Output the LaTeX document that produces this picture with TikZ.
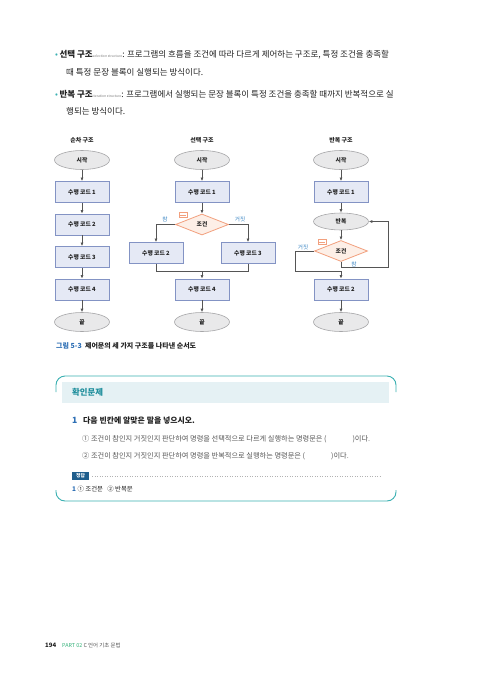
\documentclass[tikz,border=0pt]{standalone}
\usepackage{fontspec}
\setmainfont{Noto Sans CJK KR}
\usetikzlibrary{shapes.geometric,arrows.meta}
\definecolor{boxfill}{HTML}{E5E9F5}
\definecolor{boxdraw}{HTML}{8393C4}
\definecolor{ellfill}{HTML}{E9E9EA}
\definecolor{elldraw}{HTML}{A6A6A8}
\definecolor{decfill}{HTML}{FDEFE7}
\definecolor{decdraw}{HTML}{F2A07E}
\definecolor{linegray}{HTML}{555555}
\definecolor{lblblue}{HTML}{3B86C4}
\definecolor{teal1}{HTML}{3AB0B2}
\definecolor{headfill}{HTML}{E5F1F4}
\definecolor{headtxt}{HTML}{1E8E9C}
\definecolor{capblue}{HTML}{2D6FB5}
\definecolor{badge}{HTML}{1F5E8C}
\definecolor{partgreen}{HTML}{35B27A}
\definecolor{txtdark}{HTML}{222222}
\definecolor{txtgray}{HTML}{555555}
\begin{document}
\begin{tikzpicture}[x=1pt,y=-1pt,
  every node/.style={inner sep=0pt, text=txtdark},
  dfont/.style={font=\fontsize{5.8}{7}\selectfont\bfseries},
  term/.style={ellipse, draw=elldraw, fill=ellfill, line width=0.6pt, minimum width=55pt, minimum height=19pt, dfont},
  proc/.style={rectangle, draw=boxdraw, fill=boxfill, line width=0.8pt, minimum width=54pt, minimum height=21pt, dfont},
  dec/.style={diamond, aspect=2.5, draw=decdraw, fill=decfill, line width=0.8pt, minimum width=53pt, minimum height=21pt, dfont},
  ttl/.style={font=\fontsize{6}{7}\selectfont\bfseries},
  lbl/.style={font=\fontsize{5.6}{6}\selectfont, text=lblblue},
  conn/.style={draw=linegray, line width=0.8pt},
  arr/.style={conn, -{Latex[length=3.5pt,width=3pt]}},
  icon/.style={rectangle, draw=decdraw, line width=0.6pt, minimum width=8pt, minimum height=5pt},
  body/.style={anchor=west, font=\fontsize{8.5}{10}\selectfont},
  item/.style={anchor=west, font=\fontsize{7.2}{8}\selectfont, text=txtgray}
]
\useasboundingbox (0,0) rectangle (500,683);
\fill[white] (0,0) rectangle (500,683);

% ---- bullets
\node[body] (b1) at (55,55) {{\color{teal1}•}\,\textbf{선택 구조}{\fontsize{3.4}{4}\selectfont\color{gray}selection structure}: 프로그램의 흐름을 조건에 따라 다르게 제어하는 구조로, 특정 조건을 충족할};
\node[body] (b1b) at (66,72) {때 특정 문장 블록이 실행되는 방식이다.};
\node[body] (b2) at (55,94) {{\color{teal1}•}\,\textbf{반복 구조}{\fontsize{3.4}{4}\selectfont\color{gray}iteration structure}: 프로그램에서 실행되는 문장 블록이 특정 조건을 충족할 때까지 반복적으로 실};
\node[body] (b2b) at (66,111) {행되는 방식이다.};

% ---- column 1
\node[ttl] (t1) at (82,140) {순차 구조};
\node[term] (s1) at (82,160) {시작};
\node[proc] (a1) at (82,192) {수행 코드 1};
\node[proc] (a2) at (82,224.5) {수행 코드 2};
\node[proc] (a3) at (82,257) {수행 코드 3};
\node[proc] (a4) at (82,289.5) {수행 코드 4};
\node[term] (e1) at (82,322) {끝};
\draw[arr] (s1) -- (a1);
\draw[arr] (a1) -- (a2);
\draw[arr] (a2) -- (a3);
\draw[arr] (a3) -- (a4);
\draw[arr] (a4) -- (e1);

% ---- column 2
\node[ttl] (t2) at (202,140) {선택 구조};
\node[term] (s2) at (202,160) {시작};
\node[proc] (c1) at (202,192) {수행 코드 1};
\node[dec] (d2) at (202,224.5) {조건};
\node[proc] (c2) at (156,253) {수행 코드 2};
\node[proc] (c3) at (248,253) {수행 코드 3};
\node[proc] (c4) at (202,289.5) {수행 코드 4};
\node[term] (e2) at (202,322) {끝};
\node[icon] (i2) at (183,215) {};
\draw[decdraw, line width=0.5pt] ([xshift=1pt]i2.west) -- ([xshift=-1pt]i2.east);
\node[lbl] (l2t) at (165,219) {참};
\node[lbl] (l2f) at (240,219) {거짓};
\coordinate (j2) at (202,271);
\draw[arr] (s2) -- (c1);
\draw[arr] (c1) -- (d2);
\draw[arr] (d2.west) -| (c2.north);
\draw[arr] (d2.east) -| (c3.north);
\draw[conn] (c2.south) -- (c2.south |- j2) -- (c3.south |- j2) -- (c3.south);
\draw[arr] (j2) -- (c4);
\draw[arr] (c4) -- (e2);

% ---- column 3
\node[ttl] (t3) at (341,140) {반복 구조};
\node[term] (s3) at (341,160) {시작};
\node[proc] (r1) at (341,192) {수행 코드 1};
\node[term, minimum height=17pt] (rp) at (341,221.5) {반복};
\node[dec] (d3) at (341,251) {조건};
\node[proc] (r2) at (341,289.5) {수행 코드 2};
\node[term] (e3) at (341,322) {끝};
\node[icon] (i3) at (322,242) {};
\draw[decdraw, line width=0.5pt] ([xshift=1pt]i3.west) -- ([xshift=-1pt]i3.east);
\node[lbl] (l3f) at (303,247) {거짓};
\node[lbl] (l3t) at (354,264.5) {참};
\coordinate (lp) at (388,267);
\coordinate (fl) at (295,271.5);
\draw[arr] (s3) -- (r1);
\draw[arr] (r1) -- (rp);
\draw[arr] (rp) -- (d3);
\draw[arr] (d3.south) |- (lp) |- (rp.east);
\draw[arr] (d3.west) -| (fl) -| (r2.north);
\draw[arr] (r2) -- (e3);

% ---- caption
\node[anchor=west, font=\fontsize{7}{8}\selectfont\bfseries] (cap) at (56,346) {{\color{capblue}그림 5-3}\ \ 제어문의 세 가지 구조를 나타낸 순서도};

% ---- check box
\draw[teal1, line width=0.9pt, rounded corners=9pt] (56,392) -- (56,376) -- (396,376) -- (396,392);
\draw[teal1, line width=0.9pt, rounded corners=9pt] (56,490) -- (56,501) -- (396,501) -- (396,490);
\fill[headfill] (62,382) rectangle (389,403);
\node[anchor=west, font=\fontsize{8.4}{9}\selectfont\bfseries, text=headtxt] (hd) at (72,392.5) {확인문제};
\node[anchor=west, font=\fontsize{8.6}{9}\selectfont\bfseries, text=capblue] (qn) at (72,420.5) {1};
\node[anchor=west, font=\fontsize{7.9}{9}\selectfont\bfseries] (q) at (83,420.5) {다음 빈칸에 알맞은 말을 넣으시오.};
\node[item] (it1) at (82,439) {① 조건이 참인지 거짓인지 판단하여 명령을 선택적으로 다르게 실행하는 명령문은 (\hspace{26pt})이다.};
\node[item] (it2) at (82,456) {② 조건이 참인지 거짓인지 판단하여 명령을 반복적으로 실행하는 명령문은 (\hspace{26pt})이다.};
\node[rectangle, fill=badge, minimum width=17pt, minimum height=7.5pt, font=\fontsize{4.8}{5}\selectfont\bfseries, text=white] (bd) at (80.5,476) {정답};
\coordinate (dl) at (381,476);
\draw[gray!60, line width=0.5pt, dotted] ([xshift=3pt]bd.east) -- (dl);
\node[anchor=west, font=\fontsize{6.4}{7}\selectfont] (ans) at (72,489) {{\color{capblue}\bfseries 1}\ ① 조건문\ \ \ ② 반복문};

% ---- footer
\node[anchor=west, font=\fontsize{6}{7}\selectfont\bfseries] (pg) at (45,645) {194};
\node[anchor=west, font=\fontsize{5.4}{7}\selectfont] (pt) at (62,645) {{\color{partgreen}PART 02}\ {\color{txtgray}C 언어 기초 문법}};
\end{tikzpicture}
\end{document}
